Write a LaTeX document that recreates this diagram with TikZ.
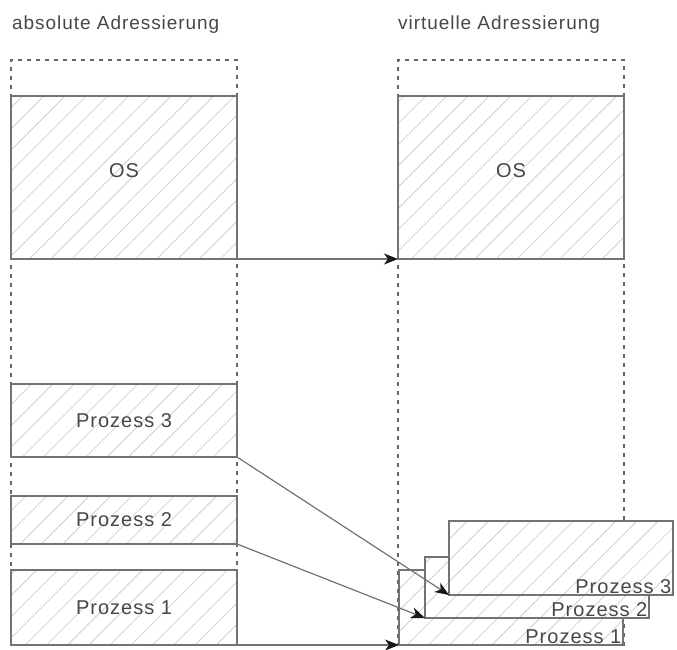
\documentclass[tikz,border=0pt]{standalone}
\usepackage{fontspec}
\setmainfont{Liberation Sans}[LetterSpace=5]
\usetikzlibrary{patterns.meta,arrows.meta}
\begin{document}
\begin{tikzpicture}[x=1pt,y=-1pt,
  ttl/.style={text=black!72, font=\fontsize{19}{22}\selectfont, inner sep=2pt},
  txt/.style={text=black!72, font=\fontsize{20}{23}\selectfont, inner sep=2pt},
  box/.style={draw=black!55, line width=1.3pt, preaction={fill=white},
    pattern={Lines[angle=45,distance=15pt,line width=0.6pt]}, pattern color=black!22,
    anchor=north west, inner sep=0pt, outer sep=0pt},
  col/.style={draw=black!60, line width=1.2pt, dash pattern=on 4pt off 5pt,
    anchor=north west, inner sep=0pt, outer sep=0pt},
  arr/.style={draw=black!55, line width=1.2pt,
    -{Stealth[length=14pt,width=11pt,inset=4pt,color=black!90]}},
  plab/.style={label={[txt,anchor=south east,inner sep=1.5pt]south east:#1}}
]
\useasboundingbox (0,0) rectangle (677,649);
% titles
\node[ttl, anchor=west] (t1) at (10,25) {absolute Adressierung};
\node[ttl, anchor=west] (t2) at (396,25) {virtuelle Adressierung};
% dashed columns
\node[col, minimum width=226pt, minimum height=585pt] (colA) at (11,60) {};
\node[col, minimum width=226pt, minimum height=585pt] (colB) at (398,60) {};
% left side
\node[box, minimum width=226pt, minimum height=163pt,
  label={[txt, yshift=7pt]center:OS}] (osA) at (11,96) {};
\node[box, minimum width=226pt, minimum height=73pt,
  label={[txt]center:Prozess 3}] (p3A) at (11,384) {};
\node[box, minimum width=226pt, minimum height=48pt,
  label={[txt]center:Prozess 2}] (p2A) at (11,496) {};
\node[box, minimum width=226pt, minimum height=75pt,
  label={[txt]center:Prozess 1}] (p1A) at (11,570) {};
% right side
\node[box, minimum width=226pt, minimum height=163pt,
  label={[txt, yshift=7pt]center:OS}] (osB) at (398,96) {};
\node[box, minimum width=224pt, minimum height=75pt, plab={Prozess 1}] (p1B) at (399,570) {};
\node[box, minimum width=224pt, minimum height=61pt, plab={Prozess 2}] (p2B) at (425,557) {};
\node[box, minimum width=224pt, minimum height=74pt, plab={Prozess 3}] (p3B) at (449,521) {};
% arrows
\draw[arr] (osA.south east) -- (osB.south west);
\draw[arr] (p3A.south east) -- (p3B.south west);
\draw[arr] (p2A.south east) -- (p2B.south west);
\draw[arr] (p1A.south east) -- (p1B.south west);
\end{tikzpicture}
\end{document}
